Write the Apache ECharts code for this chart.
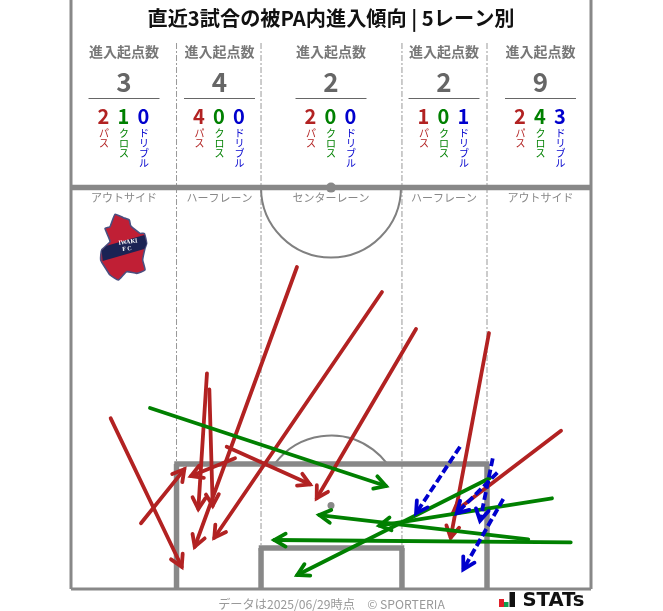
<!DOCTYPE html>
<html><head><meta charset="utf-8">
<style>html,body{margin:0;padding:0;background:#fff}#c{width:663px;height:611px}</style>
<script src="https://cdn.jsdelivr.net/npm/echarts@6/dist/echarts.min.js"></script>
</head><body><div id="c"></div>
<script>
// Lane summary
const laneNames = ['アウトサイド','ハーフレーン','センターレーン','ハーフレーン','アウトサイド'];
const laneTotals = [3,4,2,2,9];
const passCounts = [2,4,2,1,2];
const crossCounts = [1,0,0,0,4];
const dribbleCounts = [0,0,0,1,3];
const titleText = '直近3試合の被PA内進入傾向 | 5レーン別';
const headerLabel = '進入起点数';
const footerText = 'データは2025/06/29時点　© SPORTERIA';

// Arrows in pitch metres: [startX, startY, endX, endY] (y measured from goal line)
const passArrows = [
 [5.19,22.29,14.48,2.91],[9.15,8.58,14.82,15.63],[17.78,28.17,16.65,10.45],[18.09,26.08,18.53,10.88],
 [29.55,42.05,16.18,5.52],[40.67,38.79,18.74,6.70],[21.45,17.07,15.69,14.76],[20.36,18.58,31.25,13.67],
 [45.12,33.96,32.13,11.85],[54.66,33.43,49.65,6.70],[64.08,20.67,49.95,9.93]
];
const crossArrows = [
 [10.33,23.64,41.19,13.45],[62.90,11.85,40.32,8.27],[59.80,6.49,32.47,9.66],[65.35,6.10,26.59,6.40],[54.79,14.50,29.59,1.83]
];
const dribbleArrows = [
 [50.87,18.58,45.12,9.89],[55.15,17.07,53.49,8.92],[55.75,15.19,50.44,9.89],[56.53,11.75,51.30,2.57]
];

// Pitch geometry in metres
const pitchW = 68, halfLen = 52.5, topLen = 76.92;
const thickLines = [[13.8,-0.1,13.8,16.33],[54.4,-0.1,54.4,16.33],[13.5,16.33,54.7,16.33],[24.85,-0.1,24.85,5.35],[43.28,-0.1,43.28,5.35],[24.55,5.35,43.58,5.35]];
const laneLines = [[13.8,0,13.8,71.4],[24.85,0,24.85,71.4],[43.28,0,43.28,71.4],[54.4,0,54.4,71.4]];
const borderLines = [[0,0,0,topLen],[68,0,68,topLen],[0,0,68,0]];
const halfLine = [[0,52.42,68,52.42]];
const spots = [[34,52.42,5],[34,10.9,3.5]];
const arcs = [[34,52.42,9.15],[34,10.9,9.15]];

const FONT = '"Noto Sans CJK JP","Noto Sans",sans-serif';
const GREY='#888', RED='#b22222', GREEN='#008000', BLUE='#0000cd';

function segSeries(data,style,z){
  return {type:'custom',coordinateSystem:'cartesian2d',clip:false,silent:true,z,animation:false,
    data,encode:{x:[0,2],y:[1,3]},
    renderItem(p,api){
      const a=api.coord([api.value(0),api.value(1)]), b=api.coord([api.value(2),api.value(3)]);
      return {type:'line',shape:{x1:a[0],y1:a[1],x2:b[0],y2:b[1]},style:Object.assign({fill:null},style)};
    }};
}
function arrowSeries(data,color,dash,z){
  return {type:'custom',coordinateSystem:'cartesian2d',clip:false,silent:true,z,animation:false,
    data,encode:{x:[0,2],y:[1,3]},
    renderItem(p,api){
      const a=api.coord([api.value(0),api.value(1)]), b=api.coord([api.value(2),api.value(3)]);
      const t=Math.atan2(b[1]-a[1],b[0]-a[0]), L=13, W=0.52;
      const l=[b[0]-L*Math.cos(t-W),b[1]-L*Math.sin(t-W)], r=[b[0]-L*Math.cos(t+W),b[1]-L*Math.sin(t+W)];
      const st={stroke:color,lineWidth:3.8,fill:null,lineCap:dash?'butt':'round'};
      return {type:'group',children:[
        {type:'line',shape:{x1:a[0],y1:a[1],x2:b[0],y2:b[1]},style:Object.assign({},st,dash?{lineDash:[8,3.5]}:{})},
        {type:'polyline',shape:{points:[l,b,r]},style:Object.assign({},st,{lineJoin:'miter',lineCap:'round'})}
      ]};
    }};
}

const laneCenters = [124,219.5,331,444,540.5];
const g = [];
function T(x,y,text,size,color,weight,extra){
  g.push({type:'text',x,y,silent:true,style:Object.assign({text,fontSize:size,fill:color,fontWeight:weight||'normal',fontFamily:FONT,align:'center',verticalAlign:'middle'},extra||{})});
}
T(331,18,titleText,20.2,'#111','bold');
const tate=s=>s.split('').join('\n');
laneCenters.forEach((cx,i)=>{
  T(cx,52,headerLabel,14,'#777','bold');
  T(cx,82,String(laneTotals[i]),26,'#666','bold');
  g.push({type:'line',silent:true,shape:{x1:cx-35.5,y1:98.5,x2:cx+35.5,y2:98.5},style:{stroke:'#666',lineWidth:1}});
  [[passCounts,RED,'パス'],[crossCounts,GREEN,'クロス'],[dribbleCounts,BLUE,'ドリブル']].forEach(([arr,col,lab],k)=>{
    const nx=cx+(k-1)*20;
    T(nx-0.5,116,String(arr[i]),20,col,'bold');
    g.push({type:'text',x:nx,y:128,silent:true,style:{text:tate(lab),fontSize:10,lineHeight:10,fill:col,fontFamily:FONT,align:'center',verticalAlign:'top'}});
  });
  T(cx,198,laneNames[i],11,GREY);
});
T(331.5,604,footerText,12.2,'#999');
// club badge
const badge=[[75,28],[100,38],[118,45],[122,62],[150,85],[163,85],[170,115],[165,130],[158,165],[165,195],[140,205],[110,200],[85,225],[60,210],[50,195],[32,165],[35,135],[60,110],[45,70],[60,65]].map(p=>[90+p[0]/3,205+p[1]/3]);
const stripe=[[50,122],[163,90],[170,116],[163,132],[38,168],[35,137]].map(p=>[90+p[0]/3,205+p[1]/3]);
g.push({type:'polygon',silent:true,shape:{points:badge,smooth:0.15},style:{fill:'#c01f35',stroke:'#4a4f80',lineWidth:1.6}});
g.push({type:'polygon',silent:true,shape:{points:stripe},style:{fill:'#1b2354'}});
g.push({type:'text',x:128,y:242,rotation:0.12,silent:true,style:{text:'IWAKI',fontSize:6,fontWeight:'bold',fill:'#fff',fontFamily:'"Liberation Serif",serif',align:'center',verticalAlign:'middle'}});
g.push({type:'text',x:127,y:249,rotation:0.12,silent:true,style:{text:'F C',fontSize:6,fontWeight:'bold',fill:'#fff',fontFamily:'"Liberation Serif",serif',align:'center',verticalAlign:'middle'}});
// STATs logo
g.push({type:'rect',silent:true,shape:{x:499,y:599,width:5,height:8},style:{fill:'#e0202a'}});
g.push({type:'rect',silent:true,shape:{x:504,y:602,width:4.5,height:5},style:{fill:'#10a050'}});
g.push({type:'rect',silent:true,shape:{x:509.5,y:592,width:5.5,height:15},style:{fill:'#111'}});
g.push({type:'text',x:522.5,y:600.5,silent:true,style:{text:'STATs',fontSize:19.6,fontWeight:'bold',fill:'#111',fontFamily:'"DejaVu Sans",sans-serif',align:'left',verticalAlign:'middle'}});

const chart = echarts.init(document.getElementById('c'),null,{renderer:'canvas'});
chart.setOption({
  animation:false,backgroundColor:'#fff',
  grid:{left:71,top:0,width:520,height:589,containLabel:false},
  xAxis:{type:'value',min:0,max:pitchW,show:false},
  yAxis:{type:'value',min:0,max:topLen,show:false},
  graphic:{elements:g},
  series:[
    segSeries(laneLines,{stroke:'#999',lineWidth:1,lineDash:[6,2,2,2]},1),
    {type:'custom',coordinateSystem:'cartesian2d',clip:false,silent:true,z:2,animation:false,data:arcs,encode:{x:0,y:1},
      renderItem(p,api){const c=api.coord([api.value(0),api.value(1)]),r=api.size([api.value(2),0])[0];
        const down=c[1]<300;
        return {type:'arc',shape:{cx:c[0],cy:c[1],r,startAngle:down?0:Math.PI+0.645,endAngle:down?Math.PI:2*Math.PI-0.645,clockwise:true},style:{stroke:'#808080',lineWidth:2,fill:null}};
      }},
    segSeries(thickLines,{stroke:GREY,lineWidth:5.5},3),
    segSeries(borderLines,{stroke:GREY,lineWidth:3},3),
    segSeries(halfLine,{stroke:GREY,lineWidth:5.5},3),
    {type:'custom',coordinateSystem:'cartesian2d',clip:false,silent:true,z:4,animation:false,data:spots,encode:{x:0,y:1},
      renderItem(p,api){const c=api.coord([api.value(0),api.value(1)]);
        return {type:'circle',shape:{cx:c[0],cy:c[1],r:api.value(2)},style:{fill:GREY}};}},
    arrowSeries(passArrows,RED,false,5),
    arrowSeries(crossArrows,GREEN,false,6),
    arrowSeries(dribbleArrows,BLUE,true,7)
  ]
});
</script></body></html>
